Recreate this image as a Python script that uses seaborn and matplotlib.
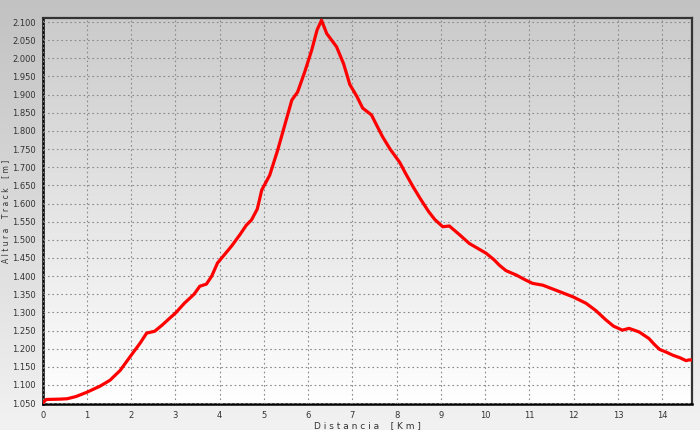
import numpy as np
import pandas as pd
import matplotlib
matplotlib.use("Agg")
import matplotlib.pyplot as plt
import seaborn as sns
from matplotlib.colors import LinearSegmentedColormap
from matplotlib.ticker import FuncFormatter, MultipleLocator

# track profile
distancia = [0.0, 0.08, 0.4, 0.55, 0.75, 1.0, 1.3, 1.52, 1.75, 2.0, 2.2, 2.35,
             2.53, 2.7, 2.87, 3.0, 3.2, 3.42, 3.55, 3.7, 3.82, 3.95, 4.1, 4.27,
             4.45, 4.6, 4.72, 4.85, 4.95, 5.13, 5.31, 5.47, 5.63, 5.76, 5.92,
             6.08, 6.2, 6.3, 6.42, 6.64, 6.8, 6.94, 7.1, 7.23, 7.43, 7.55, 7.68,
             7.85, 8.07, 8.2, 8.37, 8.55, 8.72, 8.86, 9.04, 9.19, 9.42, 9.64,
             9.85, 10.02, 10.2, 10.32, 10.47, 10.7, 10.9, 11.07, 11.3, 11.6,
             11.98, 12.28, 12.5, 12.73, 12.9, 13.1, 13.25, 13.48, 13.7, 13.82,
             13.94, 14.1, 14.24, 14.4, 14.54, 14.6, 14.69]
altura = [1050, 1060, 1061, 1062, 1068, 1080, 1097, 1113, 1140, 1182, 1215, 1243,
          1248, 1265, 1284, 1298, 1325, 1350, 1372, 1378, 1400, 1436, 1458, 1483,
          1513, 1540, 1555, 1585, 1637, 1678, 1747, 1816, 1885, 1907, 1962,
          2023, 2078, 2105, 2068, 2032, 1985, 1928, 1895, 1863, 1844, 1815, 1784,
          1750, 1713, 1683, 1646, 1610, 1578, 1556, 1536, 1538, 1514, 1490,
          1475, 1463, 1445, 1430, 1415, 1403, 1390, 1380, 1375, 1361,
          1343, 1325, 1305, 1279, 1262, 1251, 1256, 1246, 1228, 1212,
          1198, 1190, 1182, 1175, 1167, 1169, 1169]

df = pd.DataFrame({"Distancia": distancia, "Altura": altura})

sns.set_style("white")
plt.rcParams["font.family"] = ["DejaVu Sans"]

fig = plt.figure(figsize=(7, 4.3), dpi=100)

# grey vertical gradient behind everything
grad = np.linspace(0, 1, 1024).reshape(-1, 1)
bg = fig.add_axes([0, 0, 1, 1], zorder=-10)
bg.imshow(grad, aspect="auto", interpolation="bicubic",
          cmap=LinearSegmentedColormap.from_list("bg", ["#c2c2c2", "#f2f2f2"], N=1024),
          extent=[0, 1, 0, 1])
bg.axis("off")

ax = fig.add_axes([0.061, 0.06, 0.928, 0.898])
ax.patch.set_alpha(0)
ax.imshow(grad, aspect="auto", interpolation="bicubic",
          cmap=LinearSegmentedColormap.from_list("ax", ["#cbcbcb", "#ffffff"], N=1024),
          extent=[0, 1, 0, 1], transform=ax.transAxes, zorder=0)

sns.lineplot(data=df, x="Distancia", y="Altura", ax=ax, color="#ff0000",
             linewidth=2.3, zorder=3)

ax.set_xlim(0, 14.68)
ax.set_ylim(1047, 2111)
ax.xaxis.set_major_locator(MultipleLocator(1))
ax.xaxis.set_minor_locator(MultipleLocator(0.2))
ax.yaxis.set_major_locator(MultipleLocator(50))
ax.yaxis.set_major_formatter(FuncFormatter(lambda v, p: f"{int(v):,}".replace(",", ".")))

ax.grid(True, which="major", linestyle=(0, (1.5, 2.5)), color="#8a8a8a", linewidth=0.8, zorder=1)
ax.set_axisbelow(False)

ax.tick_params(axis="both", which="major", labelsize=6, labelcolor="#333333",
               length=3, width=0.6, color="#888888", direction="out", pad=2)
ax.tick_params(axis="x", which="minor", length=2, width=0.5, color="#999999")

for side in ["left", "bottom"]:
    ax.spines[side].set_linewidth(1.8)
    ax.spines[side].set_color("#000000")
for side in ["top", "right"]:
    ax.spines[side].set_linewidth(1.6)
    ax.spines[side].set_color("#333333")

ax.set_xlabel("D i s t a n c i a    [ K m ]", fontsize=6.5, color="#333333", labelpad=1)
ax.set_ylabel("A l t u r a    T r a c k    [ m ]", fontsize=5.5, color="#333333")
ax.yaxis.set_label_coords(-0.05, 0.5)

fig.savefig("out.png", dpi=100)
